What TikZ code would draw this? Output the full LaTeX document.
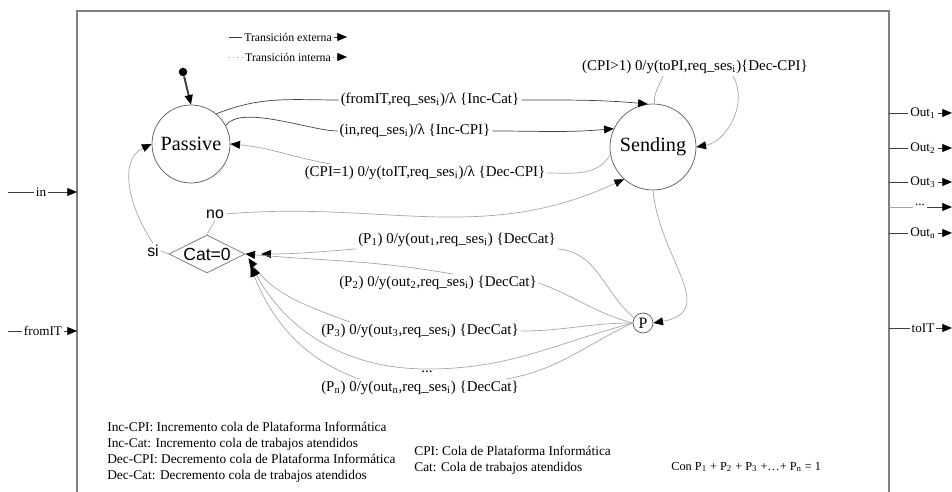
\documentclass[tikz,border=0pt]{standalone}
\usepackage{fontspec}
\setmainfont{Liberation Serif}
\newfontfamily\arialfont{Liberation Sans}
\usepackage{tikz}
\usetikzlibrary{shapes.geometric,arrows.meta}
\newcommand{\ix}[1]{\textsubscript{#1}}
\tikzset{
    state/.style = {circle, draw=black!65, minimum size=1.56cm, inner sep=0pt, font=\fontsize{11.5}{13}\selectfont},
    choice/.style = {diamond, aspect=2, draw=black!55, minimum width=1.52cm, minimum height=0.76cm, inner sep=0pt, font=\arialfont\fontsize{10}{12}\selectfont},
    tag/.style = {inner sep=1pt, font=\arialfont\fontsize{9}{10}\selectfont},
    trans/.style = {inner sep=1pt, font=\fontsize{8.5}{10}\selectfont},
    port/.style = {inner sep=1pt, font=\fontsize{7.5}{9}\selectfont},
    keytext/.style = {inner sep=1pt, font=\fontsize{6.7}{8}\selectfont},
    note/.style = {inner sep=0pt, align=left, font=\fontsize{7.6}{9.2}\selectfont},
    eline/.style = {draw=black!75},
    iline/.style = {draw=black!35},
    arrow/.style = {eline, -{Triangle[length=5.5pt,width=4.5pt,color=black]}},
    iarrow/.style = {iline, -{Triangle[length=5.5pt,width=4.5pt,color=black]}}
}
\begin{document}
\begin{tikzpicture}[x=0.02cm, y=0.02cm]
\useasboundingbox (0,0) rectangle (952,-492);
\draw [black!50, line width=0.6pt] (77,-492) -- (77,-11) -- (889,-11) -- (889,-492);

\node (ext) [keytext] at (288,-37) {Transición externa};
\coordinate (ext0) at (229,-37);
\coordinate (ext1) at (347,-37);
\draw [eline] (ext0) -- (ext.west);
\draw [arrow] (ext.east) -- (ext1);
\node (intl) [keytext] at (288,-57) {Transición interna};
\coordinate (int0) at (229,-57);
\coordinate (int1) at (347,-57);
\draw [iline, dotted] (int0) -- (intl.west);
\draw [iarrow, dotted] (intl.east) -- (int1);

\node (Passive) [state] at (191,-144) {Passive};
\node (Sending) [state, minimum size=1.72cm] at (653,-147) {Sending};
\node (Cat) [choice] at (207,-254) {Cat=0};
\node (no) [tag] at (215,-214) {no};
\node (si) [tag] at (153,-251) {si};
\node (P) [state, minimum size=0.4cm, font=\fontsize{9}{10}\selectfont] at (643,-323) {P};
\node (init) [circle, fill=black, inner sep=0pt, minimum size=0.17cm] at (183,-72) {};

\node (lfrom) [trans] at (430,-100) {(fromIT,req\_ses\ix{i})/λ \{Inc-Cat\}};
\node (lin) [trans] at (415,-131) {(in,req\_ses\ix{i})/λ \{Inc-CPI\}};
\node (lone) [trans] at (425,-173) {(CPI=1) 0/y(toIT,req\_ses\ix{i})/λ \{Dec-CPI\}};
\node (lloop) [trans] at (695,-67) {(CPI>1) 0/y(toPI,req\_ses\ix{i})\{Dec-CPI\}};
\node (lp1) [trans] at (457,-240) {(P\ix{1}) 0/y(out\ix{1},req\_ses\ix{i}) \{DecCat\}};
\node (lp2) [trans] at (438,-283) {(P\ix{2}) 0/y(out\ix{2},req\_ses\ix{i}) \{DecCat\}};
\node (lp3) [trans] at (420,-331) {(P\ix{3}) 0/y(out\ix{3},req\_ses\ix{i}) \{DecCat\}};
\node (ldots) [trans] at (427,-372) {...};
\node (lpn) [trans] at (420,-388) {(P\ix{n}) 0/y(out\ix{n},req\_ses\ix{i}) \{DecCat\}};

\draw [arrow, line width=1.1pt] (init) -- (Passive.90);
\draw [eline] (Passive.50) to[out=22,in=180] (lfrom.west);
\draw [arrow] (lfrom.east) to[out=0,in=175] (Sending.97);
\draw [eline] (Passive.28) to[out=55,in=180,looseness=0.6] (lin.west);
\draw [arrow] (lin.east) to[out=0,in=185] (Sending.155);
\draw [iline] (Sending.190) to[out=240,in=0] (lone.east);
\draw [iarrow] ([xshift=0.56cm]lone.north west) to[out=170,in=-5] (Passive.0);
\draw [iline] (Sending.88) to[out=95,in=-110] ([xshift=-0.64cm]lloop.south);
\draw [iarrow] ([xshift=0.76cm]lloop.south) to[out=-60,in=10] (Sending.0);
\draw [iline] (Cat.north) -- (no.south);
\draw [iarrow] (no.east) to[out=5,in=205] (Sending.228);
\draw [iline] (Cat.west) -- (si.east);
\draw [iarrow] (si.north) to[out=125,in=205] (Passive.180);
\draw [iarrow] (Sending.-90) to[out=-85,in=10,looseness=1.3] (P.east);

\draw [iline] (P.150) to[out=140,in=-5] (lp1.south east);
\draw [iarrow, shorten >=9pt] (lp1.south west) to[out=185,in=0] (Cat.east);
\draw [iline] (P.west) to[out=165,in=-20] (lp2.east);
\draw [iarrow] ([xshift=0.3cm]lp2.north) to[out=170,in=-5] (Cat.east);
\draw [iline] (P.west) to[out=180,in=0] (lp3.east);
\draw [iarrow, shorten >=3pt] ([xshift=0.62cm]lp3.north west) to[out=160,in=-55] (Cat.east);
\draw [iline] (P.west) to[out=195,in=0] (ldots.north);
\draw [iarrow, shorten >=8pt] (ldots.north) to[out=180,in=-62] (Cat.east);
\draw [iline] (P.west) to[out=205,in=10] ([xshift=-0.3cm]lpn.north east);
\draw [iarrow, shorten >=8pt] ([xshift=0.8cm]lpn.north west) to[out=160,in=-68] (Cat.east);

\node (pin) [port] at (41,-192) {in};
\coordinate (pin0) at (8,-192);
\coordinate (pin1) at (77,-192);
\draw [eline] (pin0) -- (pin.west);
\draw [arrow] (pin.east) -- (pin1);
\node (pfrom) [port] at (43,-331) {fromIT};
\coordinate (pfrom0) at (8,-331);
\coordinate (pfrom1) at (77,-331);
\draw [eline] (pfrom0) -- (pfrom.west);
\draw [arrow] (pfrom.east) -- (pfrom1);

\node (out1) [port] at (923,-113) {Out\ix{1}};
\node (out2) [port] at (923,-148) {Out\ix{2}};
\node (out3) [port] at (923,-182) {Out\ix{3}};
\node (outd) [port] at (920,-205) {...};
\node (outn) [port] at (923,-233) {Out\ix{n}};
\node (toit) [port] at (923,-328) {toIT};
\coordinate (out10) at (889,-113);
\coordinate (out11) at (952,-113);
\coordinate (out20) at (889,-148);
\coordinate (out21) at (952,-148);
\coordinate (out30) at (889,-182);
\coordinate (out31) at (952,-182);
\coordinate (outd0) at (889,-207);
\coordinate (outd1) at (952,-207);
\coordinate (outn0) at (889,-233);
\coordinate (outn1) at (952,-233);
\coordinate (toit0) at (889,-328);
\coordinate (toit1) at (952,-328);
\draw [eline] (out10) -- (out1.west);
\draw [arrow] (out1.east) -- (out11);
\draw [eline] (out20) -- (out2.west);
\draw [arrow] (out2.east) -- (out21);
\draw [eline] (out30) -- (out3.west);
\draw [arrow] (out3.east) -- (out31);
\draw [iline] (outd0) -- (outd1 -| outd.west);
\draw [arrow] (outd.east |- outd1) -- (outd1);
\draw [eline] (outn0) -- (outn.west);
\draw [arrow] (outn.east) -- (outn1);
\draw [eline] (toit0) -- (toit.west);
\draw [arrow] (toit.east) -- (toit1);

\node (notes) [note, anchor=west] at (107,-452) {Inc-CPI: Incremento cola de Plataforma Informática\\Inc-Cat: Incremento cola de trabajos atendidos\\Dec-CPI: Decremento cola de Plataforma Informática\\Dec-Cat: Decremento cola de trabajos atendidos};
\node (queues) [note, anchor=west] at (414,-460) {CPI: Cola de Plataforma Informática\\Cat: Cola de trabajos atendidos};
\node (sum) [note, anchor=west, font=\fontsize{7}{8.4}\selectfont] at (671,-467) {Con P\ix{1} + P\ix{2} + P\ix{3} +…+ P\ix{n} = 1};
\end{tikzpicture}
\end{document}
